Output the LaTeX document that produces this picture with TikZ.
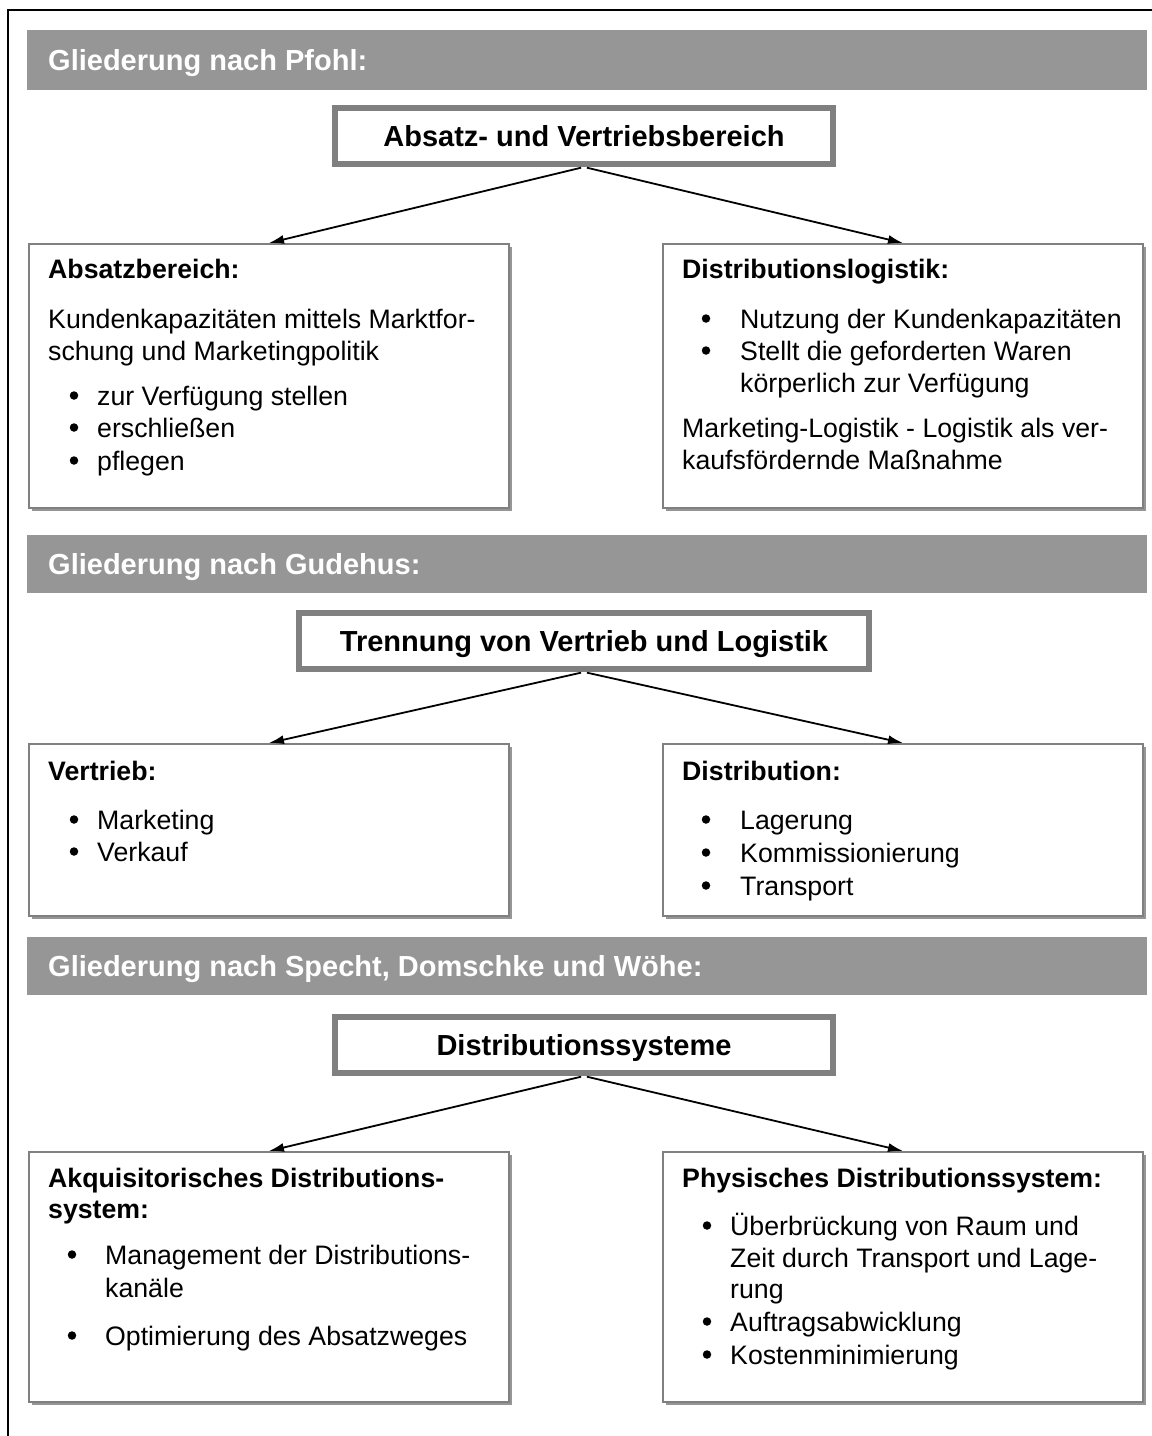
\documentclass[tikz,border=0pt]{standalone}
\usepackage{fontspec}
\setmainfont{Liberation Sans}
\usetikzlibrary{arrows.meta,shadows}
\definecolor{bargray}{RGB}{150,150,150}
\definecolor{framegray}{RGB}{128,128,128}
\definecolor{shadegray}{RGB}{150,150,150}

\begin{document}
\begin{tikzpicture}[x=1pt,y=-1pt,
  bar/.style={fill=bargray, draw=none, anchor=north west, minimum width=1120pt, inner sep=0},
  bartext/.style={anchor=base west, inner sep=0, text=white, font=\fontsize{29}{34}\selectfont\bfseries},
  headbox/.style={draw=framegray, line width=6pt, fill=white, minimum height=56pt,
    text height=22pt, text depth=1pt, inner sep=0, font=\fontsize{29}{34}\selectfont\bfseries},
  infobox/.style={draw=framegray, line width=2pt, fill=white, anchor=north west,
    minimum width=480pt, inner sep=0,
    drop shadow={shadow xshift=2.5pt, shadow yshift=-2.5pt, fill=shadegray, opacity=1}},
  txt/.style={anchor=base west, inner sep=0, font=\fontsize{26.7}{32}\selectfont},
  txtb/.style={anchor=base west, inner sep=0, font=\fontsize{26.7}{32}\selectfont\bfseries},
  dot/.style={circle, fill=black, draw=none, inner sep=0, minimum size=8.5pt, yshift=9.5pt},
  arr/.style={line width=1.8pt, shorten <=3pt, -{Latex[length=15pt,width=9pt]}},
]
\useasboundingbox (0,0) rectangle (1152,1436);

% outer frame (top and left edges)
\draw[line width=2.5pt, line cap=rect] (1170,10) -- (8,10) -- (8,1450);

% ---------------- Pfohl ----------------
\node[bar, minimum height=60pt] (bar1) at (27,30) {};
\node[bartext] (bt1) at (48,70) {Gliederung nach Pfohl:};

\node[headbox, minimum width=498pt] (h1) at (584,136) {Absatz- und Vertriebsbereich};
\node[infobox, minimum height=264pt] (L1) at (28,243) {};
\node[infobox, minimum height=264pt] (R1) at (662,243) {};
\draw[arr] (h1.south) -- (L1.north);
\draw[arr] (h1.south) -- (R1.north);

\node[txtb] (l1a) at (48,278) {Absatzbereich:};
\node[txt]  (l1b) at (48,328) {Kundenkapazitäten mittels Marktfor-};
\node[txt]  (l1c) at (48,360) {schung und Marketingpolitik};
\node[dot]  (l1d1) at (74,405) {};
\node[txt]  (l1e1) at (97,405) {zur Verfügung stellen};
\node[dot]  (l1d2) at (74,437) {};
\node[txt]  (l1e2) at (97,437) {erschließen};
\node[dot]  (l1d3) at (74,470) {};
\node[txt]  (l1e3) at (97,470) {pflegen};

\node[txtb] (r1a) at (682,278) {Distributionslogistik:};
\node[dot]  (r1d1) at (706,328) {};
\node[txt]  (r1e1) at (740,328) {Nutzung der Kundenkapazitäten};
\node[dot]  (r1d2) at (706,360) {};
\node[txt]  (r1e2) at (740,360) {Stellt die geforderten Waren};
\node[txt]  (r1e3) at (740,392) {körperlich zur Verfügung};
\node[txt]  (r1f)  at (682,437) {Marketing-Logistik - Logistik als ver-};
\node[txt]  (r1g)  at (682,469) {kaufsfördernde Maßnahme};

% ---------------- Gudehus ----------------
\node[bar, minimum height=58pt] (bar2) at (27,535) {};
\node[bartext] (bt2) at (48,574) {Gliederung nach Gudehus:};

\node[headbox, minimum width=570pt] (h2) at (584,641) {Trennung von Vertrieb und Logistik};
\node[infobox, minimum height=172pt] (L2) at (28,743) {};
\node[infobox, minimum height=172pt] (R2) at (662,743) {};
\draw[arr] (h2.south) -- (L2.north);
\draw[arr] (h2.south) -- (R2.north);

\node[txtb] (l2a) at (48,780) {Vertrieb:};
\node[dot]  (l2d1) at (74,829) {};
\node[txt]  (l2e1) at (97,829) {Marketing};
\node[dot]  (l2d2) at (74,861) {};
\node[txt]  (l2e2) at (97,861) {Verkauf};

\node[txtb] (r2a) at (682,780) {Distribution:};
\node[dot]  (r2d1) at (706,829) {};
\node[txt]  (r2e1) at (740,829) {Lagerung};
\node[dot]  (r2d2) at (706,862) {};
\node[txt]  (r2e2) at (740,862) {Kommissionierung};
\node[dot]  (r2d3) at (706,895) {};
\node[txt]  (r2e3) at (740,895) {Transport};

% ---------------- Specht, Domschke, Wöhe ----------------
\node[bar, minimum height=58pt] (bar3) at (27,937) {};
\node[bartext] (bt3) at (48,976) {Gliederung nach Specht, Domschke und Wöhe:};

\node[headbox, minimum width=498pt] (h3) at (584,1045) {Distributionssysteme};
\node[infobox, minimum height=250pt] (L3) at (28,1151) {};
\node[infobox, minimum height=250pt] (R3) at (662,1151) {};
\draw[arr] (h3.south) -- (L3.north);
\draw[arr] (h3.south) -- (R3.north);

\node[txtb] (l3a) at (48,1187) {Akquisitorisches Distributions-};
\node[txtb] (l3b) at (48,1218) {system:};
\node[dot]  (l3d1) at (72,1264) {};
\node[txt]  (l3e1) at (105,1264) {Management der Distributions-};
\node[txt]  (l3e2) at (105,1297) {kanäle};
\node[dot]  (l3d2) at (72,1345) {};
\node[txt]  (l3e3) at (105,1345) {Optimierung des Absatzweges};

\node[txtb] (r3a) at (682,1187) {Physisches Distributionssystem:};
\node[dot]  (r3d1) at (707,1235) {};
\node[txt]  (r3e1) at (730,1235) {Überbrückung von Raum und};
\node[txt]  (r3e2) at (730,1267) {Zeit durch Transport und Lage-};
\node[txt]  (r3e3) at (730,1298) {rung};
\node[dot]  (r3d2) at (707,1331) {};
\node[txt]  (r3e4) at (730,1331) {Auftragsabwicklung};
\node[dot]  (r3d3) at (707,1364) {};
\node[txt]  (r3e5) at (730,1364) {Kostenminimierung};
\end{tikzpicture}
\end{document}
